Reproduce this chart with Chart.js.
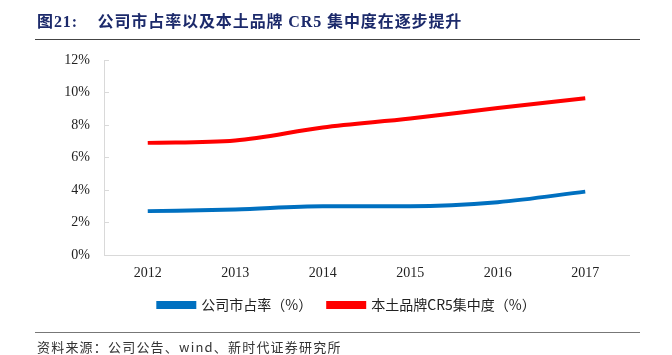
<!DOCTYPE html>
<html><head><meta charset="utf-8">
<script src="https://cdn.jsdelivr.net/npm/chart.js@4.4.1/dist/chart.umd.min.js"></script>
<style>
html,body{margin:0;padding:0;background:#fff;width:672px;height:355px;overflow:hidden;}
#title{position:absolute;z-index:2;left:37px;top:8px;font-family:"Liberation Serif","Noto Sans CJK SC",serif;font-weight:bold;font-size:16px;letter-spacing:0.9px;color:#1c2a6b;white-space:nowrap;}
#title .cn{font-family:"Noto Sans CJK SC",sans-serif;}
#topline{position:absolute;z-index:2;left:35px;top:39px;width:605px;height:1px;background:#444;}
#botline{position:absolute;z-index:2;left:35px;top:332px;width:605px;height:1px;background:#777;}
#source{position:absolute;z-index:2;left:37px;top:337px;font-family:"Noto Sans CJK SC",sans-serif;font-size:13px;letter-spacing:1.2px;color:#333;white-space:nowrap;}
#wrap{position:absolute;z-index:1;left:0;top:0;width:672px;height:355px;}
</style></head>
<body>
<div id="title">图21:&nbsp;&nbsp;&nbsp;&nbsp;<span class="cn">公司市占率以及本土品牌</span> CR5 <span class="cn">集中度在逐步提升</span></div>
<div id="topline"></div>
<div id="wrap"><canvas id="c"></canvas></div>
<div id="botline"></div>
<div id="source">资料来源：公司公告、wind、新时代证券研究所</div>
<script>
const categories = ['2012','2013','2014','2015','2016','2017'];
const marketShare = [2.7, 2.8, 3.0, 3.0, 3.25, 3.9];
const cr5 = [6.9, 7.05, 7.85, 8.4, 9.05, 9.65];
const seriesNames = ['公司市占率（%）','本土品牌CR5集中度（%）'];

const ctx = document.getElementById('c');
new Chart(ctx, {
  type: 'line',
  data: {
    labels: categories,
    datasets: [
      {label: seriesNames[0], data: marketShare, borderColor: '#0070c0', backgroundColor: '#0070c0', borderWidth: 4, pointRadius: 0, tension: 0.4, cubicInterpolationMode: 'monotone'},
      {label: seriesNames[1], data: cr5, borderColor: '#ff0000', backgroundColor: '#ff0000', borderWidth: 4, pointRadius: 0, tension: 0.4, cubicInterpolationMode: 'monotone'}
    ]
  },
  options: {
    responsive: true,
    maintainAspectRatio: false,
    animation: false,
    layout: {padding: {top: 60, right: 43, left: 65, bottom: 33}},
    plugins: {
      title: {display: false},
      tooltip: {enabled: false},
      legend: {
        position: 'bottom',
        labels: {
          boxWidth: 36, boxHeight: 4, padding: 16,
          color: '#222',
          font: {family: '"Noto Sans CJK SC", sans-serif', size: 14}
        }
      }
    },
    scales: {
      x: {
        offset: true,
        afterFit: (s) => { s.height = 27; },
        grid: {display: false, drawTicks: false},
        border: {display: true, color: '#d9d9d9', width: 1},
        ticks: {color: '#222', padding: 10, font: {family: '"Liberation Serif", serif', size: 14}}
      },
      y: {
        min: 0, max: 12,
        afterFit: (s) => { s.width = 39; },
        grid: {display: true, drawOnChartArea: false, drawTicks: true, tickLength: -5, color: '#d9d9d9'},
        border: {display: true, color: '#d9d9d9', width: 1},
        ticks: {stepSize: 2, color: '#222', padding: 19, callback: v => v + '%', font: {family: '"Liberation Serif", serif', size: 14}}
      }
    }
  }
});
</script>
</body></html>
